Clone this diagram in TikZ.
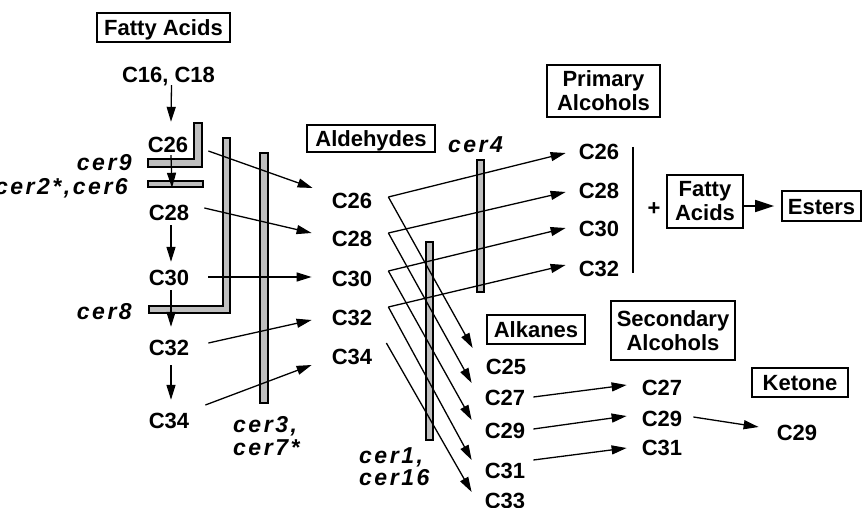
\documentclass[tikz,border=0pt]{standalone}
\usepackage{fontspec}
\setmainfont{Liberation Sans}
\newfontfamily\cerfont{Liberation Sans}[LetterSpace=11]
\usetikzlibrary{arrows.meta,calc}
\begin{document}
\begin{tikzpicture}[x=1pt,y=-1pt,
  lbl/.style={inner sep=0pt, text height=16pt, text depth=0pt, font=\fontsize{22}{24}\selectfont\bfseries},
  sbox/.style={draw, line width=1.8pt, inner sep=0pt, text height=16pt, text depth=0pt, font=\fontsize{22}{24}\selectfont\bfseries},
  mbox/.style={draw, line width=1.8pt, inner sep=0pt, align=center, font=\fontsize{22}{24}\selectfont\bfseries},
  cerlbl/.style={inner sep=0pt, font=\cerfont\fontsize{23}{22.5}\selectfont\bfseries\itshape},
  bar/.style={draw, line width=1.5pt, fill=gray!50},
  arr/.style={line width=1.3pt, -{Triangle[length=15pt,width=9pt]}},
  bigarr/.style={line width=1.6pt, -{Triangle[length=19pt,width=12pt]}},
]
\useasboundingbox (0,0) rectangle (862,508);

% ---- boxes ----
\node[sbox, minimum width=133pt, minimum height=29pt] (fa) at (163.5,27.5) {Fatty Acids};
\node[sbox, minimum width=128pt, minimum height=27pt] (ald) at (371,138.5) {Aldehydes};
\node[mbox, minimum width=113pt, minimum height=52pt] (prim) at (603.5,91) {Primary\\Alcohols};
\node[sbox, minimum width=98pt, minimum height=29pt] (alk) at (536,329.5) {Alkanes};
\node[mbox, minimum width=124pt, minimum height=59pt] (sec) at (673,330.5) {Secondary\\Alcohols};
\node[sbox, minimum width=96pt, minimum height=29pt] (ket) at (800,382.5) {Ketone};
\node[mbox, minimum width=76pt, minimum height=53pt] (fa2) at (705,201.5) {Fatty\\Acids};
\node[sbox, minimum width=79pt, minimum height=30pt] (es) at (821.5,206) {Esters};

% ---- left column ----
\node[lbl] (c1618) at (168.5,75) {C16, C18};
\node[lbl] (l26) at (168,145) {C26};
\node[lbl] (l28) at (169,212) {C28};
\node[lbl] (l30) at (169,277) {C30};
\node[lbl] (l32) at (169,347) {C32};
\node[lbl] (l34) at (169,420) {C34};

% ---- aldehydes ----
\node[lbl] (a26) at (352,200) {C26};
\node[lbl] (a28) at (352,238) {C28};
\node[lbl] (a30) at (352,278) {C30};
\node[lbl] (a32) at (352,317) {C32};
\node[lbl] (a34) at (352,356) {C34};

% ---- primary alcohols ----
\node[lbl] (p26) at (599,152) {C26};
\node[lbl] (p28) at (599,190) {C28};
\node[lbl] (p30) at (599,228) {C30};
\node[lbl] (p32) at (599,268) {C32};
\node[lbl] (plus) at (654,207) {+};

% ---- alkanes ----
\node[lbl] (k25) at (506,366) {C25};
\node[lbl] (k27) at (505,397) {C27};
\node[lbl] (k29) at (505,430) {C29};
\node[lbl] (k31) at (505,470) {C31};
\node[lbl] (k33) at (505,500) {C33};

% ---- secondary alcohols and ketone ----
\node[lbl] (s27) at (662,387) {C27};
\node[lbl] (s29) at (662,418) {C29};
\node[lbl] (s31) at (662,447) {C31};
\node[lbl] (kc29) at (797,432) {C29};

% ---- mutant labels ----
\node[cerlbl, anchor=east] (cer9) at (132,163) {cer9};
\node[cerlbl, anchor=east] (cer26) at (128,188) {cer2*,cer6};
\node[cerlbl, anchor=east] (cer8) at (132,312) {cer8};
\node[cerlbl] (cer4) at (475.5,145) {cer4};
\node[cerlbl, anchor=west, align=left] (cer37) at (233,436) {cer3,\\cer7*};
\node[cerlbl, anchor=west, align=left] (cer116) at (359,466.5) {cer1,\\cer16};

% ---- blocking bars ----
\draw[bar] (194,123) -- (202,123) -- (202,167) -- (148,167) -- (148,159) -- (194,159) -- cycle;
\draw[bar] (148,181) rectangle (203,187);
\draw[bar] (223,138) -- (230,138) -- (230,313) -- (149,313) -- (149,306) -- (223,306) -- cycle;
\draw[bar] (260,153) rectangle (268,403);
\draw[bar] (477,160) rectangle (484,292);
\draw[bar] (426,242) rectangle (433,440);

% ---- elongation arrows ----
\draw[arr] ([shift={(3,2)}]c1618.south) -- ([shift={(3,-15)}]l26.north);
\draw[arr] ([shift={(3,2)}]l26.south) -- ([shift={(3,-16)}]l28.north);
\draw[arr] ([shift={(2,5)}]l28.south) -- ([shift={(2,-7)}]l30.north);
\draw[arr] ([shift={(2,5)}]l30.south) -- ([shift={(2,-12)}]l32.north);
\draw[arr] ([shift={(2,10)}]l32.south) -- ([shift={(2,-12)}]l34.north);

% ---- acids to aldehydes ----
\draw[arr] ([shift={(20,6)}]l26.east) -- ([shift={(-19,-12)}]a26.west);
\draw[arr] ([shift={(15,-4)}]l28.east) -- ([shift={(-20,-5)}]a28.west);
\draw[arr] ([shift={(19,0)}]l30.east) -- ([shift={(-20,-1)}]a30.west);
\draw[arr] ([shift={(19,-4)}]l32.east) -- ([shift={(-20,3)}]a32.west);
\draw[arr] ([shift={(16,-15)}]l34.east) -- ([shift={(-20,9)}]a34.west);

% ---- aldehyde branch points ----
\coordinate (v26) at ([shift={(16,-3)}]a26.east);
\coordinate (v28) at ([shift={(16,-5)}]a28.east);
\coordinate (v30) at ([shift={(16,-7)}]a30.east);
\coordinate (v32) at ([shift={(16,-10)}]a32.east);
\coordinate (v34) at ([shift={(14,-13)}]a34.east);

% ---- aldehydes to primary alcohols ----
\draw[arr] (v26) -- ([shift={(-13,1)}]p26.west);
\draw[arr] (v28) -- ([shift={(-13,2)}]p28.west);
\draw[arr] (v30) -- ([shift={(-13,0)}]p30.west);
\draw[arr] (v32) -- ([shift={(-13,-3)}]p32.west);

% ---- aldehydes to alkanes ----
\draw[arr] (v26) -- ([shift={(-13,-18)}]k25.west);
\draw[arr] (v28) -- ([shift={(-13,-14)}]k27.west);
\draw[arr] (v30) -- ([shift={(-13,-10)}]k29.west);
\draw[arr] (v32) -- ([shift={(-13,-10)}]k31.west);
\draw[arr] (v34) -- ([shift={(-13,-8)}]k33.west);

% ---- alkanes to secondary alcohols to ketone ----
\draw[arr] ([shift={(8,0)}]k27.east) -- ([shift={(-15,-2)}]s27.west);
\draw[arr] ([shift={(8,-1)}]k29.east) -- ([shift={(-15,-2)}]s29.west);
\draw[arr] ([shift={(8,-10)}]k31.east) -- ([shift={(-15,1)}]s31.west);
\draw[arr] ([shift={(11,-1)}]s29.east) -- ([shift={(-18,-5)}]kc29.west);

% ---- esters ----
\draw[line width=1.2pt] (633,147) -- (633,273);
\draw[bigarr, shorten >=7pt] (fa2.east |- es.west) -- (es.west);
\end{tikzpicture}
\end{document}
